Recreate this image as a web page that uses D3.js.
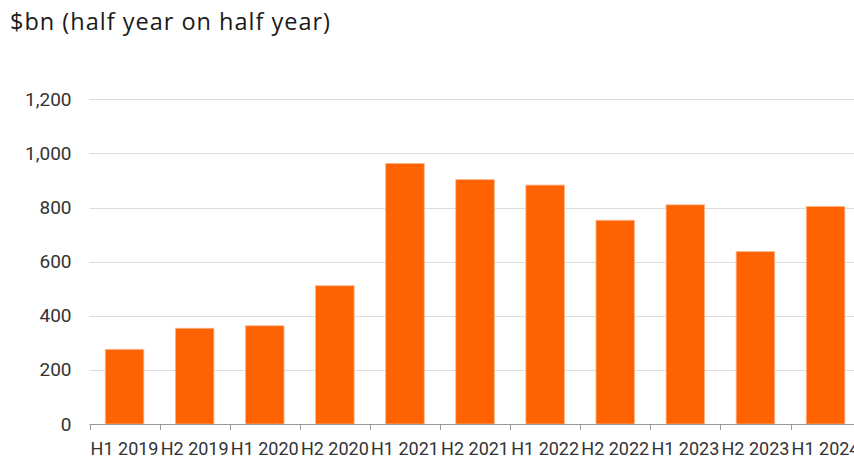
<!DOCTYPE html>
<html>
<head>
<meta charset="utf-8">
<script src="https://cdn.jsdelivr.net/npm/d3@7"></script>
<style>
  html, body { margin: 0; padding: 0; background: #fff; }
  svg { display: block; }
  text { font-family: Roboto, "Open Sans", sans-serif; }
</style>
</head>
<body>
<svg id="chart" width="854" height="459"></svg>
<script>
// Half-year volumes, $bn
const periods = ["H1 2019", "H2 2019", "H1 2020", "H2 2020", "H1 2021", "H2 2021",
                 "H1 2022", "H2 2022", "H1 2023", "H2 2023", "H1 2024"];
const values = [276, 354, 363, 511, 963, 903, 883, 753, 810, 637, 804];
const yTicks = [0, 200, 400, 600, 800, 1000, 1200];
const title = "$bn (half year on half year)";

(function draw() {
  const svg = d3.select("#chart");
  const W = 854;
  const plotLeft = 89.5, plotRight = 860.6, plotTop = 99.3, plotBottom = 424;
  const font = 'Roboto, "Open Sans", sans-serif';

  const x = d3.scaleBand().domain(periods).range([plotLeft, plotRight])
    .paddingInner(0.45).paddingOuter(0.225);
  const y = d3.scaleLinear().domain([0, 1200]).range([plotBottom, plotTop]);

  // title
  svg.append("text")
    .attr("x", 10).attr("y", 30)
    .attr("font-size", 23.5).attr("letter-spacing", 1)
    .style("font-family", '"Open Sans", Roboto, sans-serif')
    .attr("fill", "#1a1a1a")
    .text(title);

  // horizontal gridlines
  svg.append("g")
    .selectAll("line")
    .data(yTicks.filter(d => d > 0))
    .join("line")
    .attr("x1", plotLeft).attr("x2", W)
    .attr("y1", d => Math.round(y(d)) + 0.5).attr("y2", d => Math.round(y(d)) + 0.5)
    .attr("stroke", "#dcdcdc").attr("stroke-width", 1);

  // y axis labels
  const yAxis = d3.axisLeft(y).tickValues(yTicks).tickSize(0).tickPadding(18)
    .tickFormat(d3.format(","));
  const gy = svg.append("g").attr("transform", `translate(${plotLeft},0)`).call(yAxis);
  gy.select(".domain").remove();
  gy.selectAll("text").attr("font-size", 19).attr("fill", "#333")
    .style("font-family", font);

  // bars
  svg.append("g")
    .selectAll("rect")
    .data(values)
    .join("rect")
    .attr("x", (d, i) => x(periods[i]))
    .attr("width", x.bandwidth())
    .attr("y", d => y(d))
    .attr("height", d => plotBottom - y(d))
    .attr("fill", "#ff6200")
    .attr("stroke", "#ffb48a").attr("stroke-width", 0.8);

  // x axis: baseline with ticks at band boundaries
  const g = svg.append("g");
  g.append("line")
    .attr("x1", plotLeft).attr("x2", W)
    .attr("y1", plotBottom + 0.5).attr("y2", plotBottom + 0.5)
    .attr("stroke", "#9a9a9a").attr("stroke-width", 1);
  const bounds = periods.map((p, i) => plotLeft + i * x.step());
  g.selectAll("line.tick")
    .data(bounds)
    .join("line")
    .attr("class", "tick")
    .attr("x1", d => Math.round(d) + 0.5).attr("x2", d => Math.round(d) + 0.5)
    .attr("y1", plotBottom).attr("y2", plotBottom + 6)
    .attr("stroke", "#9a9a9a").attr("stroke-width", 1);

  g.selectAll("text")
    .data(periods)
    .join("text")
    .attr("x", d => x(d) + x.bandwidth() / 2)
    .attr("y", 455)
    .attr("text-anchor", "middle")
    .attr("font-size", 18).attr("fill", "#333")
    .text(d => d);
})();
</script>
</body>
</html>
